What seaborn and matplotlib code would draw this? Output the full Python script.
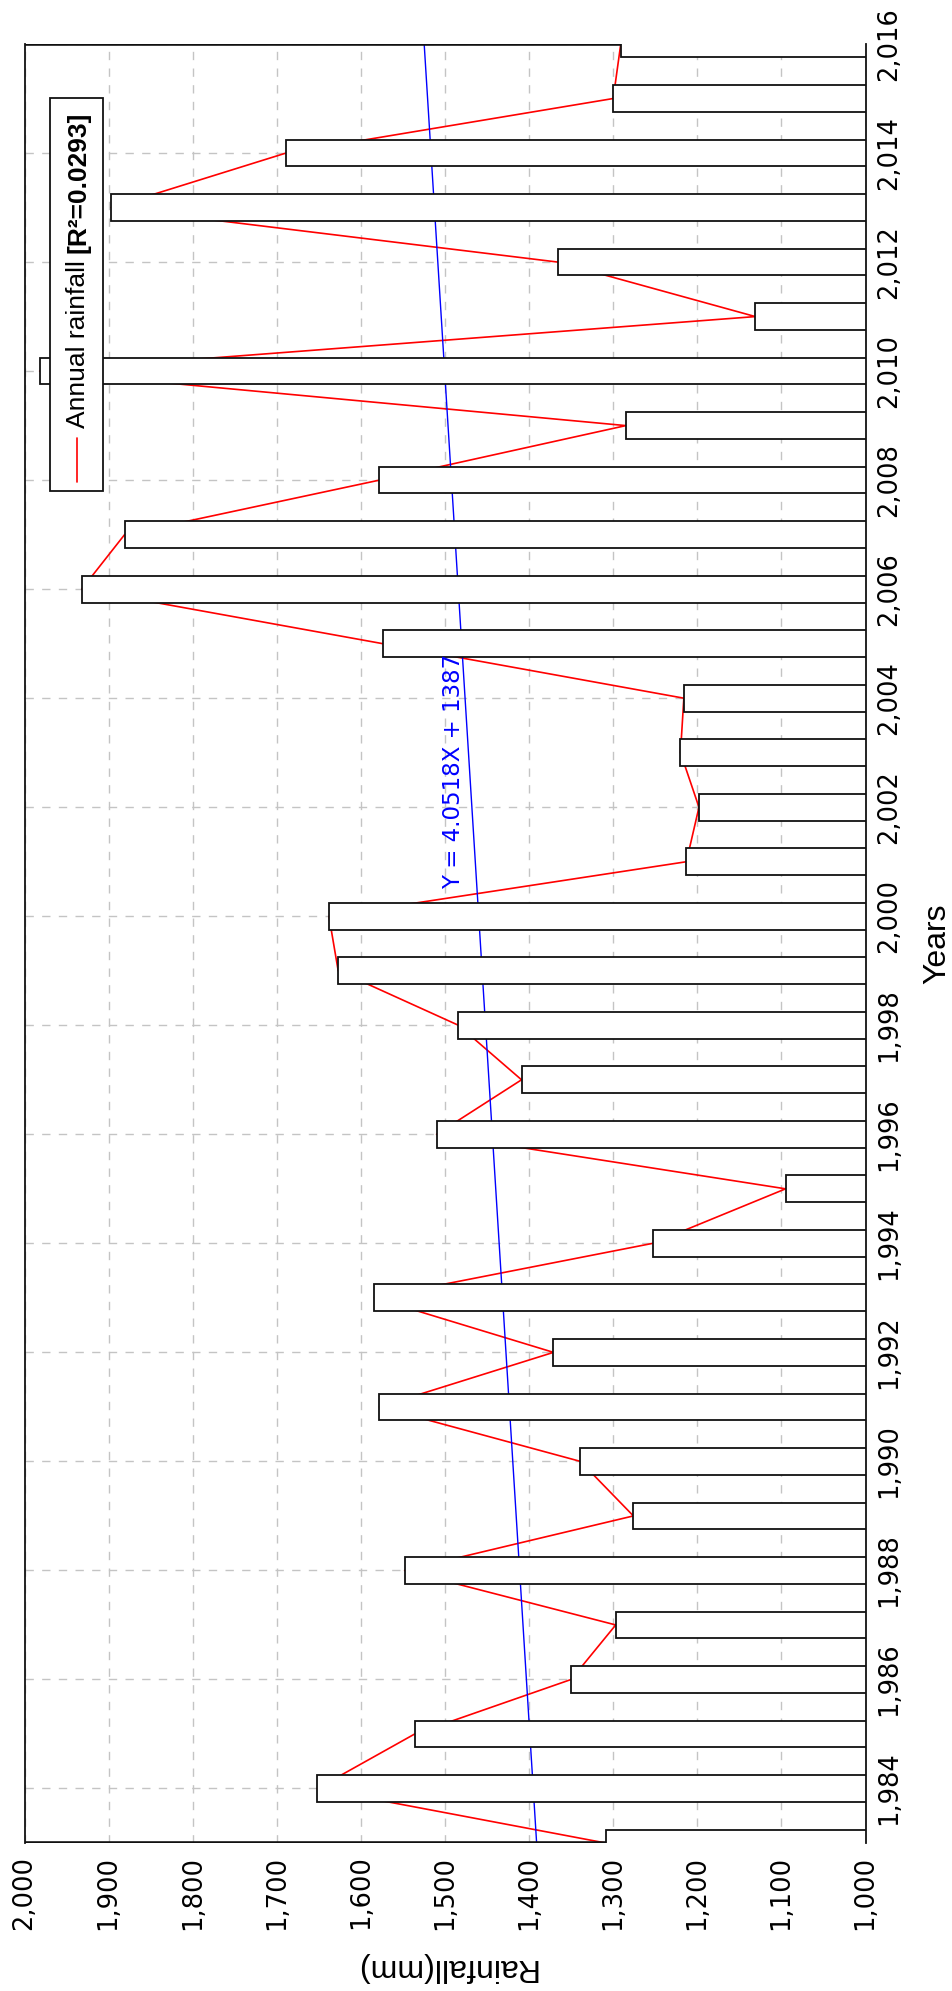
import matplotlib
matplotlib.use("Agg")
import matplotlib.pyplot as plt
from matplotlib.patches import Rectangle
from matplotlib.lines import Line2D
import numpy as np
import pandas as pd
import seaborn as sns

# Annual rainfall series (mm)
years = list(range(1983, 2017))
rainfall = [1309, 1652, 1536, 1350, 1297, 1548, 1276, 1339, 1578, 1371,
            1584, 1253, 1095, 1510, 1409, 1484, 1627, 1638, 1213, 1198,
            1220, 1216, 1574, 1932, 1881, 1578, 1285, 1982, 1131, 1366,
            1897, 1689, 1300, 1291]

# Linear trend  Y = a*X + b  with X = 1 for the first year
slope = 4.0518
intercept = 1387
r_squared = 0.0293

rain_ticks = list(range(1000, 2001, 100))
year_ticks = list(range(1984, 2017, 2))

sns.set_style("white")
plt.rcParams["font.family"] = ["DejaVu Sans"]
plt.rcParams.update({"text.color": "black", "axes.labelcolor": "black",
                     "xtick.color": "black", "ytick.color": "black"})

df = pd.DataFrame({"Years": years, "Rainfall": rainfall})
df["Trend"] = slope * (df["Years"] - years[0] + 1) + intercept

fig = plt.figure(figsize=(9.52, 19.91), dpi=100)
ax = fig.add_axes([0.02574, 0.07433, 0.88340, 0.90357])

# Rotated layout: rainfall runs right-to-left, years bottom-to-top
sns.lineplot(data=df, x="Rainfall", y="Years", orient="y", sort=False,
             estimator=None, color="red", lw=1.2, zorder=2, ax=ax)
sns.lineplot(data=df, x="Trend", y="Years", orient="y", sort=False,
             estimator=None, color="blue", lw=1.0, zorder=2, ax=ax)
sns.barplot(data=df, x="Rainfall", y="Years", orient="y", native_scale=True,
            width=0.49, color="white", saturation=1, edgecolor="#111111",
            linewidth=1.3, errorbar=None, zorder=3, ax=ax)

ax.set_xlim(2000, 1000)
ax.set_ylim(1983, 2016)

ax.set_axisbelow(True)
ax.grid(True, color="#c4c4c4", ls=(0, (6, 6)), lw=1.0)

for name, sp in ax.spines.items():
    sp.set_visible(True)
    sp.set_color("#111111")
    if name in ("top", "bottom"):
        sp.set_linewidth(2.6)
        sp.set_zorder(2.8)
        sp.set_clip_path(ax.patch)
    else:
        sp.set_linewidth(1.3)
        sp.set_zorder(4)

ax.set_xticks(rain_ticks)
ax.set_xticklabels([f"{v:,}" for v in rain_ticks], rotation=90, fontsize=18.5)
ax.tick_params(axis="x", length=0, pad=9)

ax.yaxis.tick_right()
ax.set_yticks(year_ticks)
ax.set_yticklabels([f"{y:,}" for y in year_ticks], rotation=90, va="center",
                   fontsize=18.5)
ax.tick_params(axis="y", length=0, pad=8)

ax.set_xlabel("Rainfall(mm)", family=["Liberation Sans", "DejaVu Sans"],
              fontsize=23, rotation=180, ha="center", va="center")
ax.xaxis.set_label_coords(0.5, -0.0689)
ax.yaxis.set_label_position("right")
ax.set_ylabel("Years", family=["Liberation Sans", "DejaVu Sans"],
              fontsize=23, rotation=90, ha="center", va="center")
ax.yaxis.set_label_coords(1.085, 0.5)

# Trend equation
ax.text(1490, 2002.65, f"Y = {slope}X + {intercept}", color="blue",
        rotation=90, ha="center", va="center", fontsize=16.5, zorder=4)

# Legend box drawn in the rotated frame
ax.add_patch(Rectangle((0.0303, 0.7515), 0.063, 0.2185, transform=ax.transAxes,
                       facecolor="white", edgecolor="#111111", lw=1.3,
                       zorder=5, clip_on=False))
ax.add_line(Line2D([0.0621, 0.0621], [0.7565, 0.781], transform=ax.transAxes,
                   color="red", lw=1.2, zorder=6))
t1 = ax.text(0.0640, 0.7866, "Annual rainfall", transform=ax.transAxes,
             rotation=90, ha="center", va="bottom", fontsize=19,
             family=["Liberation Sans", "DejaVu Sans"], zorder=6)
fig.canvas.draw()
bb = t1.get_window_extent()
y_next = ax.transAxes.inverted().transform((bb.x0, bb.y1 + 7))[1]
ax.text(0.0640, y_next, f"[R\u00b2={r_squared}]", transform=ax.transAxes,
        rotation=90, ha="center", va="bottom", fontsize=19, fontweight="bold",
        family=["Liberation Sans", "DejaVu Sans"], zorder=6)

fig.savefig("out.png", dpi=100, facecolor="white")
